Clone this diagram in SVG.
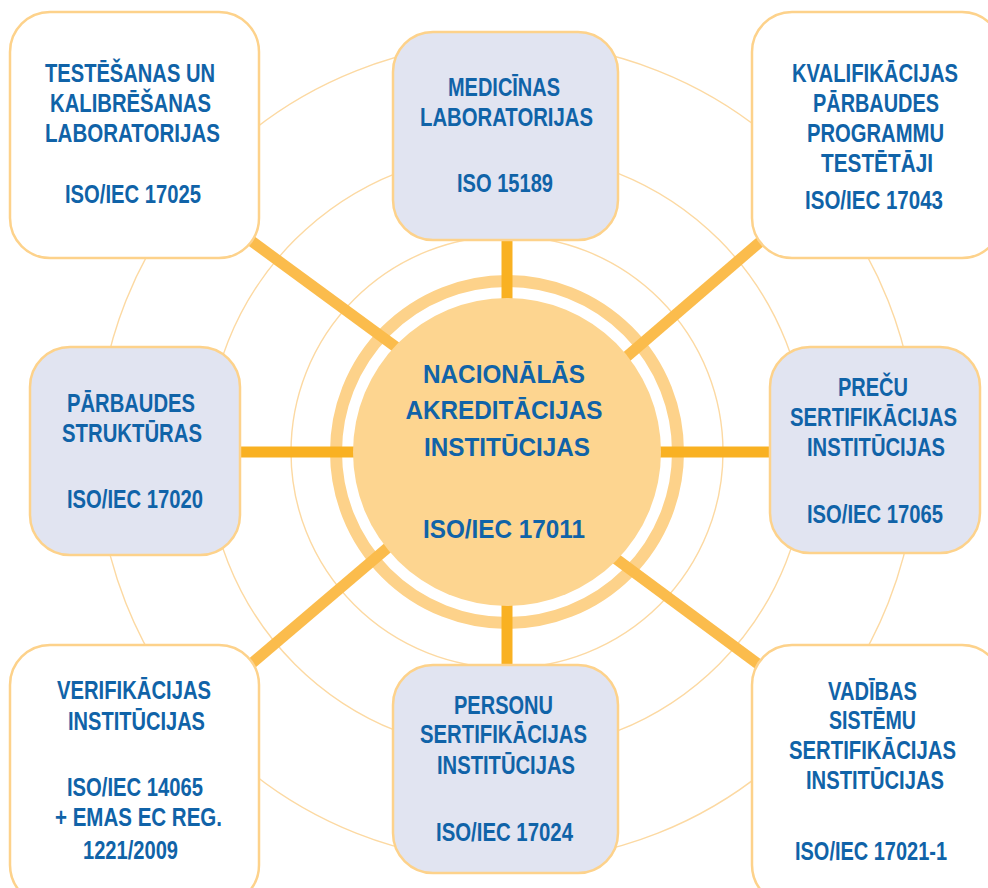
<svg xmlns="http://www.w3.org/2000/svg" width="988" height="888" viewBox="0 0 988 888">
<style>
.ring{fill:none;stroke:#FCD9A2;stroke-width:1.4}
.box{stroke:#FDD28B;stroke-width:2.5}
.w{fill:#FFFFFF}
.l{fill:#E1E4F1}
.sp{stroke:#F9B122;stroke-width:11;fill:none}
.sd{stroke:#FBBC4C;stroke-width:11;fill:none}
text{font-family:"Liberation Sans Narrow","Liberation Sans",Arial,sans-serif;font-weight:bold;fill:#1063A8;text-anchor:middle;font-size:25px}
.c{font-family:"Liberation Sans",Arial,sans-serif;font-size:25.5px}
</style>
<rect width="988" height="888" fill="#FFFFFF"/>
<g id="rings">
<circle class="ring" cx="507" cy="452" r="216"/>
<circle class="ring" cx="507" cy="452" r="300"/>
<circle class="ring" cx="507" cy="452" r="410"/>
<circle cx="507" cy="452" r="171" fill="none" stroke="#FDD28A" stroke-width="12"/>
</g>
<g id="connectors">
<line class="sp" x1="507" y1="230" x2="507" y2="320"/>
<line class="sp" x1="507" y1="585" x2="507" y2="675"/>
<line class="sp" x1="230" y1="452" x2="370" y2="452"/>
<line class="sp" x1="645" y1="452" x2="780" y2="452"/>
<line class="sd" x1="235" y1="229" x2="415" y2="361"/>
<line class="sd" x1="775" y1="229" x2="610" y2="371"/>
<line class="sd" x1="237" y1="676" x2="405" y2="533"/>
<line class="sd" x1="773" y1="675" x2="600" y2="547"/>
</g>
<g id="center">
<circle cx="507" cy="452" r="154" fill="#FDD590"/>
<text class="c" x="504" y="383" textLength="162" lengthAdjust="spacingAndGlyphs">NACIONĀLĀS</text>
<text class="c" x="504" y="419" textLength="197" lengthAdjust="spacingAndGlyphs">AKREDITĀCIJAS</text>
<text class="c" x="507" y="456" textLength="166" lengthAdjust="spacingAndGlyphs">INSTITŪCIJAS</text>
<text class="c" x="504" y="538" textLength="162" lengthAdjust="spacingAndGlyphs">ISO/IEC 17011</text>
</g>
<g id="n-testesanas">
<rect class="box w" x="10" y="12" width="249" height="246" rx="40"/>
<text x="130" y="82" textLength="170" lengthAdjust="spacingAndGlyphs">TESTĒŠANAS UN</text>
<text x="130.5" y="112" textLength="161" lengthAdjust="spacingAndGlyphs">KALIBRĒŠANAS</text>
<text x="132.5" y="142" textLength="175" lengthAdjust="spacingAndGlyphs">LABORATORIJAS</text>
<text x="133" y="203" textLength="136" lengthAdjust="spacingAndGlyphs">ISO/IEC 17025</text>
</g>
<g id="n-medicinas">
<rect class="box l" x="393" y="32" width="225" height="208" rx="40"/>
<text x="504" y="96" textLength="112" lengthAdjust="spacingAndGlyphs">MEDICĪNAS</text>
<text x="506.5" y="126" textLength="173" lengthAdjust="spacingAndGlyphs">LABORATORIJAS</text>
<text x="505" y="192" textLength="96" lengthAdjust="spacingAndGlyphs">ISO 15189</text>
</g>
<g id="n-kvalifikacijas">
<rect class="box w" x="752" y="12" width="250" height="246" rx="40"/>
<text x="875" y="82" textLength="166" lengthAdjust="spacingAndGlyphs">KVALIFIKĀCIJAS</text>
<text x="876" y="112" textLength="126" lengthAdjust="spacingAndGlyphs">PĀRBAUDES</text>
<text x="875.5" y="142" textLength="137" lengthAdjust="spacingAndGlyphs">PROGRAMMU</text>
<text x="877" y="172" textLength="112" lengthAdjust="spacingAndGlyphs">TESTĒTĀJI</text>
<text x="874" y="209" textLength="138" lengthAdjust="spacingAndGlyphs">ISO/IEC 17043</text>
</g>
<g id="n-parbaudes">
<rect class="box l" x="30" y="347" width="210" height="208" rx="40"/>
<text x="131" y="412" textLength="128" lengthAdjust="spacingAndGlyphs">PĀRBAUDES</text>
<text x="132" y="442" textLength="140" lengthAdjust="spacingAndGlyphs">STRUKTŪRAS</text>
<text x="135" y="508" textLength="136" lengthAdjust="spacingAndGlyphs">ISO/IEC 17020</text>
</g>
<g id="n-precu">
<rect class="box l" x="770" y="347" width="210" height="206" rx="40"/>
<text x="873" y="396" textLength="70" lengthAdjust="spacingAndGlyphs">PREČU</text>
<text x="873.5" y="426" textLength="167" lengthAdjust="spacingAndGlyphs">SERTIFIKĀCIJAS</text>
<text x="876" y="456" textLength="138" lengthAdjust="spacingAndGlyphs">INSTITŪCIJAS</text>
<text x="875" y="523" textLength="136" lengthAdjust="spacingAndGlyphs">ISO/IEC 17065</text>
</g>
<g id="n-verifikacijas">
<rect class="box w" x="10" y="645" width="249" height="260" rx="40"/>
<text x="134" y="699" textLength="154" lengthAdjust="spacingAndGlyphs">VERIFIKĀCIJAS</text>
<text x="136.5" y="730" textLength="137" lengthAdjust="spacingAndGlyphs">INSTITŪCIJAS</text>
<text x="135" y="796" textLength="136" lengthAdjust="spacingAndGlyphs">ISO/IEC 14065</text>
<text x="138.5" y="826" textLength="167" lengthAdjust="spacingAndGlyphs">+ EMAS EC REG.</text>
<text x="130.5" y="859" textLength="95" lengthAdjust="spacingAndGlyphs">1221/2009</text>
</g>
<g id="n-personu">
<rect class="box l" x="393" y="665" width="225" height="208" rx="40"/>
<text x="503.5" y="714" textLength="99" lengthAdjust="spacingAndGlyphs">PERSONU</text>
<text x="503.5" y="743" textLength="167" lengthAdjust="spacingAndGlyphs">SERTIFIKĀCIJAS</text>
<text x="506" y="774" textLength="138" lengthAdjust="spacingAndGlyphs">INSTITŪCIJAS</text>
<text x="504.5" y="841" textLength="137" lengthAdjust="spacingAndGlyphs">ISO/IEC 17024</text>
</g>
<g id="n-vadibas">
<rect class="box w" x="752" y="645" width="250" height="260" rx="40"/>
<text x="872.5" y="700" textLength="89" lengthAdjust="spacingAndGlyphs">VADĪBAS</text>
<text x="872.5" y="729" textLength="87" lengthAdjust="spacingAndGlyphs">SISTĒMU</text>
<text x="872.5" y="759" textLength="167" lengthAdjust="spacingAndGlyphs">SERTIFIKĀCIJAS</text>
<text x="875" y="789" textLength="138" lengthAdjust="spacingAndGlyphs">INSTITŪCIJAS</text>
<text x="871" y="860" textLength="152" lengthAdjust="spacingAndGlyphs">ISO/IEC 17021-1</text>
</g>
</svg>
